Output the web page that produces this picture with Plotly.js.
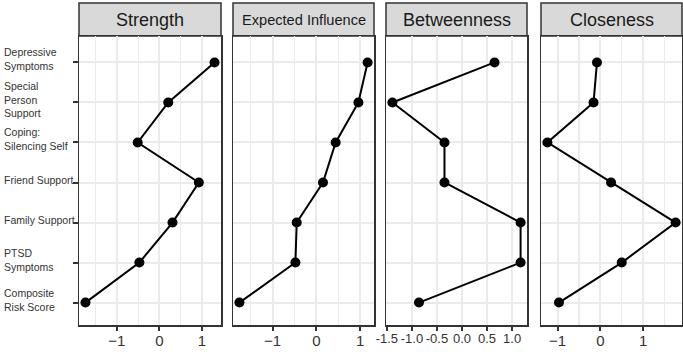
<!DOCTYPE html>
<html>
<head>
<meta charset="utf-8">
<script src="https://cdn.plot.ly/plotly-3.0.1.min.js"></script>
<style>
  html, body { margin: 0; padding: 0; background: #fff; }
  #chart { width: 683px; height: 352px; }
</style>
</head>
<body>
<div id="chart"></div>
<script>
// Nodes, listed top to bottom
const nodes = [
  "Depressive<br>Symptoms",
  "Special<br>Person<br>Support",
  "Coping:<br>Silencing Self",
  "Friend Support",
  "Family Support",
  "PTSD<br>Symptoms",
  "Composite<br>Risk Score"
];

// Standardised centrality indices (z-scores), same node order
const strength           = [1.30, 0.21, -0.51, 0.93, 0.31, -0.47, -1.74];
const expectedInfluence  = [1.17, 0.96, 0.44, 0.15, -0.45, -0.48, -1.76];
const betweenness        = [0.65, -1.39, -0.35, -0.35, 1.17, 1.17, -0.86];
const closeness          = [-0.08, -0.16, -1.24, 0.25, 1.76, 0.50, -0.97];

const panelTitles = ["Strength", "Expected Influence", "Betweenness", "Closeness"];

// Tick positions and labels per panel
const ticksWhole      = [-1, 0, 1];
const ticksWholeText  = ["\u22121", "0", "1"];
const ticksHalf       = [-1.5, -1.0, -0.5, 0.0, 0.5, 1.0];
const ticksHalfText   = ["-1.5", "-1.0", "-0.5", "0.0", "0.5", "1.0"];

const W = 683, H = 352;
const px = v => v / W;
const py = v => (H - v) / H;

// Panel geometry (pixels)
const panelX = [[79, 221], [233, 374], [386, 527], [541, 682]];
const panelTop = 36, panelBottom = 325, stripTop = 3;
const stripFont = [18, 14.6, 18, 18];
const tickFont = [15, 15, 13, 15];

const series = [strength, expectedInfluence, betweenness, closeness];
const tickVals = [ticksWhole, ticksWhole, ticksHalf, ticksWhole];
const tickText = [ticksWholeText, ticksWholeText, ticksHalfText, ticksWholeText];

// categories bottom to top so the first node sits at the top
const catOrder = nodes.slice().reverse();

const traces = [];
const layout = {
  width: W, height: H,
  margin: {l: 0, r: 0, t: 0, b: 0},
  paper_bgcolor: "#fff",
  plot_bgcolor: "#fff",
  showlegend: false,
  font: {family: "Liberation Sans, Arial, sans-serif", color: "#333"},
  shapes: [],
  annotations: []
};

series.forEach((vals, i) => {
  const n = i + 1;
  const xa = n === 1 ? "x" : "x" + n;
  const ya = n === 1 ? "y" : "y" + n;
  traces.push({
    type: "scatter", mode: "lines+markers",
    x: vals, y: nodes,
    xaxis: xa, yaxis: ya,
    line: {color: "#000", width: 2},
    marker: {color: "#000", size: 10},
    cliponaxis: false,
    hoverinfo: "skip"
  });

  const lo = Math.min(...vals), hi = Math.max(...vals);
  const pad = 0.05 * (hi - lo);

  layout["xaxis" + (n === 1 ? "" : n)] = {
    domain: [px(panelX[i][0]), px(panelX[i][1])],
    anchor: ya,
    range: [lo - pad, hi + pad],
    tickmode: "array",
    tickvals: tickVals[i],
    ticktext: tickText[i],
    ticks: "outside", ticklen: 4, tickwidth: 2, tickcolor: "#333",
    ticklabelstandoff: -3,
    tickfont: {size: tickFont[i], color: "#333"},
    showgrid: true, gridcolor: "#EBEBEB", gridwidth: 2,
    minor: {showgrid: true, dtick: 0.5, tick0: 0, gridcolor: "#EBEBEB", gridwidth: 1.2},
    zeroline: false,
    showline: true, mirror: true, linecolor: "#333", linewidth: 1.5,
    fixedrange: true
  };

  layout["yaxis" + (n === 1 ? "" : n)] = {
    domain: [py(panelBottom), py(panelTop)],
    anchor: xa,
    type: "category",
    categoryorder: "array",
    categoryarray: catOrder,
    range: [-0.56, 6.66],
    showticklabels: false,
    ticks: n === 1 ? "outside" : "",
    ticklen: 5, tickwidth: 2, tickcolor: "#333",
    showgrid: true, gridcolor: "#EBEBEB", gridwidth: 2,
    zeroline: false,
    showline: true, mirror: true, linecolor: "#333", linewidth: 1.5,
    fixedrange: true
  };

  // facet strip
  layout.shapes.push({
    type: "rect", xref: "paper", yref: "paper",
    x0: px(panelX[i][0]), x1: px(panelX[i][1]),
    y0: py(panelTop), y1: py(stripTop),
    fillcolor: "#D9D9D9",
    line: {color: "#333", width: 1.5},
    layer: "below"
  });
  layout.annotations.push({
    xref: "paper", yref: "paper",
    x: px((panelX[i][0] + panelX[i][1]) / 2),
    y: py((panelTop + stripTop) / 2 + 1),
    text: panelTitles[i],
    showarrow: false,
    xanchor: "center", yanchor: "middle",
    font: {size: stripFont[i], color: "#1A1A1A"}
  });
});

// node labels, left aligned at the page edge
nodes.forEach(name => {
  layout.annotations.push({
    xref: "paper", yref: "y",
    x: px(2), y: name,
    text: name,
    showarrow: false,
    xanchor: "left", yanchor: "middle", align: "left",
    yshift: 3,
    font: {size: 10.5, color: "#333"}
  });
});

Plotly.newPlot("chart", traces, layout, {displayModeBar: false, staticPlot: true});
</script>
</body>
</html>
